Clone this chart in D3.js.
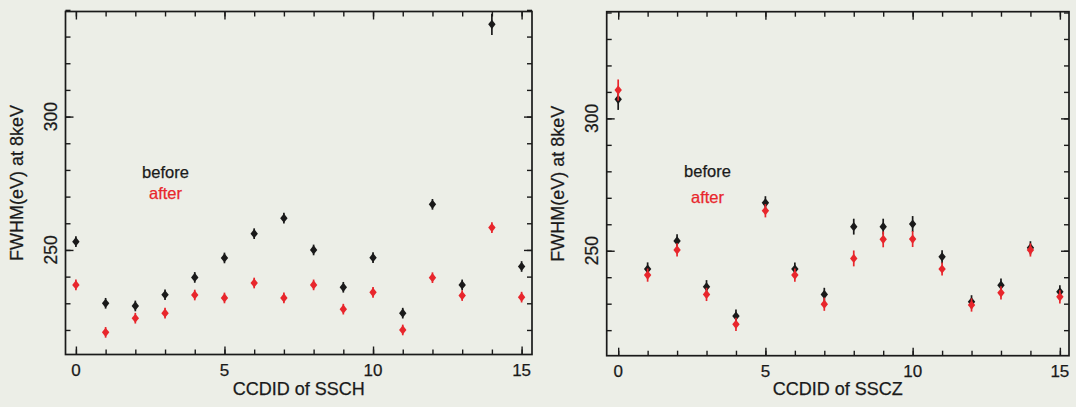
<!DOCTYPE html>
<html>
<head>
<meta charset="utf-8">
<script src="https://cdn.jsdelivr.net/npm/d3@7"></script>
<style>
  html, body { margin: 0; padding: 0; background: #eceee7; }
  svg { display: block; }
  text { font-family: "Liberation Sans", Arial, Helvetica, sans-serif; fill: #1a1a1a; stroke: #1a1a1a; stroke-width: 0.25; }
</style>
</head>
<body>
<svg id="chart" width="1076" height="407"></svg>
<script>
// CCD ids on the x axis
var ccdIds = d3.range(16);
var majorIds = [0, 5, 10, 15];
var yMajor = [250, 300];
var yMinor = d3.range(220, 341, 10);

// FWHM(eV) at 8keV
var sschBefore = [253.1, 230.0, 229.0, 233.2, 239.7, 247.0, 256.1, 261.9, 250.0, 236.0, 247.1, 226.3, 267.1, 236.9, 334.6, 243.8];
var sschAfter  = [236.9, 219.1, 224.4, 226.3, 233.1, 232.0, 237.6, 232.0, 236.9, 227.8, 234.1, 220.0, 239.6, 232.9, 258.4, 232.3];
var sschErrBefore = [2, 2, 2, 2, 2, 2, 2, 2, 2, 2, 2, 2, 2, 2, 4, 2];
var sschErrAfter  = [2, 2, 2, 2, 2, 2, 2, 2, 2, 2, 2, 2, 2, 2, 2, 2];

var ssczBefore = [307.2, 243.1, 253.7, 236.4, 225.3, 268.1, 243.1, 233.5, 259.1, 259.1, 260.1, 247.7, 230.7, 237.0, 251.1, 234.5];
var ssczAfter  = [310.7, 240.8, 250.3, 233.5, 222.2, 265.1, 240.8, 229.8, 247.1, 254.3, 254.4, 243.1, 229.5, 234.1, 250.3, 232.6];
var ssczErrBefore = [4, 2.5, 2.5, 2.5, 2.5, 2.5, 2.5, 2.5, 3, 3, 3, 2.5, 2.5, 2.5, 2.5, 2.5];
var ssczErrAfter  = [4, 2.5, 2.5, 2.5, 2.5, 2.5, 2.5, 2.5, 3, 3, 3, 2.5, 2.5, 2.5, 2.5, 2.5];

var svg = d3.select('#chart');
var ink = '#1a1a1a';
var red = '#e8262c';

function drawPanel(opt) {
  var x = d3.scaleLinear().domain(opt.xDomain).range([opt.left, opt.right]);
  var y = d3.scaleLinear().domain(opt.yDomain).range([opt.bottom, opt.top]);
  var g = svg.append('g');

  // inward ticks on all four sides
  function xTicks(vals, len) {
    g.append('g').attr('transform', 'translate(0,' + opt.bottom + ')')
      .call(d3.axisBottom(x).tickValues(vals).tickSize(-len).tickFormat(''))
      .call(a => a.select('.domain').remove());
    g.append('g').attr('transform', 'translate(0,' + opt.top + ')')
      .call(d3.axisTop(x).tickValues(vals).tickSize(-len).tickFormat(''))
      .call(a => a.select('.domain').remove());
  }
  function yTicks(vals, len) {
    g.append('g').attr('transform', 'translate(' + opt.left + ',0)')
      .call(d3.axisLeft(y).tickValues(vals).tickSize(-len).tickFormat(''))
      .call(a => a.select('.domain').remove());
    g.append('g').attr('transform', 'translate(' + opt.right + ',0)')
      .call(d3.axisRight(y).tickValues(vals).tickSize(-len).tickFormat(''))
      .call(a => a.select('.domain').remove());
  }
  xTicks(ccdIds, 5);
  xTicks(majorIds, 8);
  yTicks(yMinor, 5);
  yTicks(yMajor, 8);
  g.selectAll('.tick line').attr('stroke', ink).attr('stroke-width', 1.4);

  g.append('rect')
    .attr('x', opt.left).attr('y', opt.top)
    .attr('width', opt.right - opt.left).attr('height', opt.bottom - opt.top)
    .attr('fill', 'none').attr('stroke', ink).attr('stroke-width', 1.7);

  // tick labels
  g.selectAll('.xlab').data(majorIds).enter().append('text')
    .attr('x', d => x(d)).attr('y', opt.bottom + 21)
    .attr('text-anchor', 'middle').attr('font-size', 17)
    .text(d => d);
  g.selectAll('.ylab').data(yMajor).enter().append('text')
    .attr('transform', d => 'translate(' + (opt.left - 9) + ',' + y(d) + ') rotate(-90)')
    .attr('text-anchor', 'middle').attr('font-size', 17.5)
    .text(d => d);

  // axis titles
  g.append('text')
    .attr('x', (opt.left + opt.right) / 2).attr('y', 395)
    .attr('text-anchor', 'middle').attr('font-size', 18)
    .text(opt.xTitle);
  g.append('text')
    .attr('transform', 'translate(' + (opt.left - 43) + ',' + ((opt.top + opt.bottom) / 2) + ') rotate(-90)')
    .attr('text-anchor', 'middle').attr('font-size', 18)
    .text('FWHM(eV) at 8keV');

  // series: diamonds with vertical error bars
  function series(vals, errs, color) {
    var pts = ccdIds.map(i => ({ id: i, v: vals[i], e: errs[i] }));
    var s = g.append('g');
    s.selectAll('line').data(pts).enter().append('line')
      .attr('x1', d => x(d.id)).attr('x2', d => x(d.id))
      .attr('y1', d => y(d.v + d.e)).attr('y2', d => y(d.v - d.e))
      .attr('stroke', color).attr('stroke-width', 1.7);
    s.selectAll('path').data(pts).enter().append('path')
      .attr('d', d => {
        var cx = x(d.id), cy = y(d.v);
        return 'M' + cx + ',' + (cy - 4.6) + 'L' + (cx + 3.7) + ',' + cy +
               'L' + cx + ',' + (cy + 4.6) + 'L' + (cx - 3.7) + ',' + cy + 'Z';
      })
      .attr('fill', color);
  }
  series(opt.before, opt.errBefore, ink);
  series(opt.after, opt.errAfter, red);

  // legend
  g.append('text').attr('x', opt.legendX).attr('y', opt.legendY1)
    .attr('text-anchor', 'middle').attr('font-size', 16.5).text('before');
  g.append('text').attr('x', opt.legendX).attr('y', opt.legendY2)
    .attr('text-anchor', 'middle').attr('font-size', 16.5)
    .style('fill', red).style('stroke', red).text('after');
}

drawPanel({
  left: 65.5, right: 532, top: 11.5, bottom: 354.5,
  xDomain: [-0.35, 15.35], yDomain: [210.8, 339.4],
  before: sschBefore, after: sschAfter,
  errBefore: sschErrBefore, errAfter: sschErrAfter,
  xTitle: 'CCDID of SSCH',
  legendX: 165.5, legendY1: 177.5, legendY2: 198.5
});

drawPanel({
  left: 606.7, right: 1069, top: 11.7, bottom: 355.7,
  xDomain: [-0.39, 15.31], yDomain: [210.35, 340.3],
  before: ssczBefore, after: ssczAfter,
  errBefore: ssczErrBefore, errAfter: ssczErrAfter,
  xTitle: 'CCDID of SSCZ',
  legendX: 707.5, legendY1: 176.7, legendY2: 202.7
});
</script>
</body>
</html>
